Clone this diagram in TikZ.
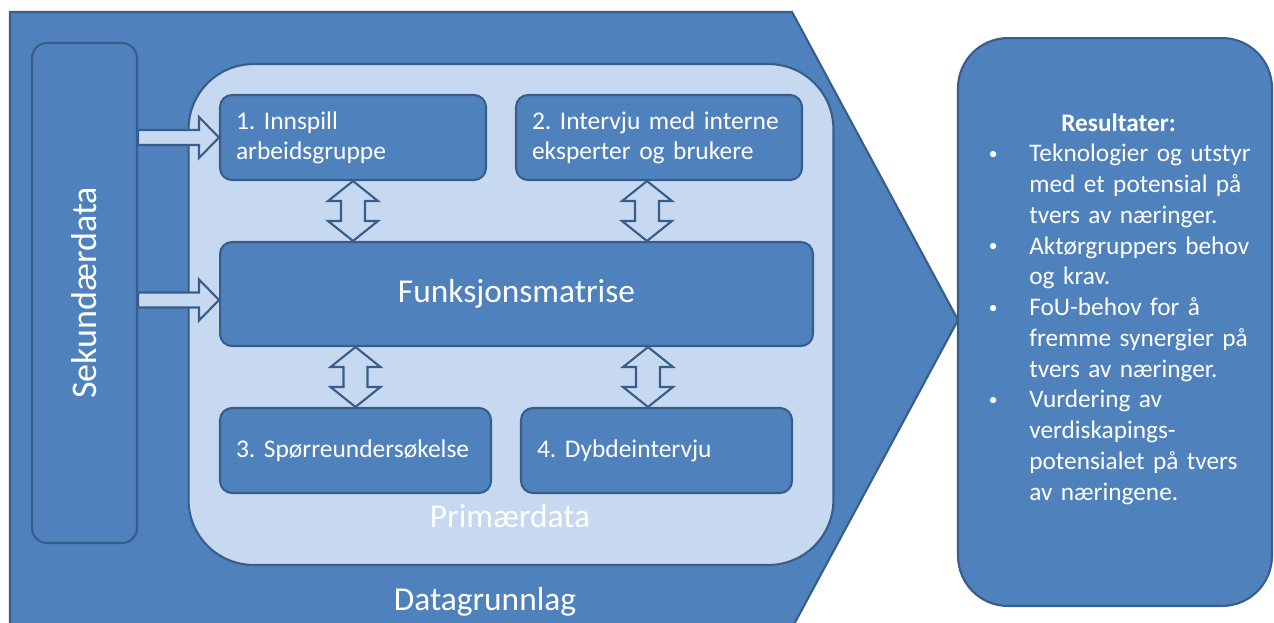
\documentclass[tikz,border=0pt]{standalone}
\usepackage{fontspec}
\setmainfont{Carlito}
\frenchspacing
\definecolor{midblue}{HTML}{4F81BD}
\definecolor{dkblue}{HTML}{385D8A}
\definecolor{ltblue}{HTML}{C6D9F1}
\newcommand{\updown}[2]{%
  \draw[hollow] (#1) -- ++(25,20) -- ++(-13,0) -- ([shift={(12,-20)}]#2) -- ++(13,0) -- (#2)
    -- ++(-25,-20) -- ++(13,0) -- ([shift={(-12,20)}]#1) -- ++(-13,0) -- cycle;}
\newcommand{\rightto}[2]{%
  \draw[hollow] ([shift={(0,-7.5)}]#1) -- ([shift={(-20,-7.5)}]#2) -- ([shift={(-20,-20.5)}]#2) -- (#2)
    -- ([shift={(-20,20.5)}]#2) -- ([shift={(-20,7.5)}]#2) -- ([shift={(0,7.5)}]#1) -- cycle;}
\newcommand{\resbullet}{\makebox[0.84cm][l]{\hspace{0.03cm}\raisebox{0.09em}{\fontsize{10}{10}\selectfont\textbullet}}}
\begin{document}
\begin{tikzpicture}[x=0.02cm, y=-0.02cm,
    frame/.style={draw=dkblue, fill=midblue, line width=1.2pt},
    box/.style={frame, rounded corners=0.24cm, text=white, inner sep=0pt},
    stepbox/.style={box, align=left, inner xsep=0.32cm, minimum height=1.7cm,
      font=\fontsize{14.5}{17}\selectfont},
    hollow/.style={draw=dkblue, fill=ltblue, line width=1.2pt, line join=miter},
    biglabel/.style={text=white, font=\fontsize{19}{22}\selectfont}]
  \useasboundingbox (0,0) rectangle (1274,622);
  \clip (0,0) rectangle (1274,622);
  \draw[frame] (10,12) -- (792,12) -- (958,320) -- (792,628) -- (10,628) -- cycle;
  \node[frame, fill=ltblue, rounded corners=1.3cm, minimum width=12.9cm, minimum height=10.02cm] (prim) at (511,314.5) {};
  \node[box, rounded corners=0.3cm, rotate=90, minimum width=10cm, minimum height=2.1cm,
    font=\fontsize{20.5}{24}\selectfont] (sek) at (84.5,293) {Sekundærdata};
  \node[stepbox, text width=4.68cm] (box1) at (353,137.5) {1. Innspill\\arbeidsgruppe};
  \node[stepbox, text width=5.08cm] (box2) at (659,137.5) {2. Intervju med interne\\eksperter og brukere};
  \node[box, biglabel, minimum width=11.86cm, minimum height=2.08cm] (matrix) at (516.5,294) {Funksjonsmatrise};
  \node[stepbox, text width=4.78cm] (box3) at (355.5,450.5) {3. Spørreundersøkelse};
  \node[stepbox, text width=4.78cm] (box4) at (656.5,450.5) {4. Dybdeintervju};
  \node[biglabel] (primlabel) at (510,516) {Primærdata};
  \node[biglabel] (datalabel) at (485,602) {Datagrunnlag};
  \node[box, rounded corners=1cm, minimum width=6.28cm, minimum height=11.36cm] (res) at (1115,322) {};
  \node[anchor=north west, inner sep=0pt, text=white, text width=5.6cm, align=left,
    font=\fontsize{14.4}{17.5}\selectfont] (restext) at ([shift={(30,76)}]res.north west) {%
    \hspace*{1.48cm}\textbf{Resultater:}
    \begin{list}{\resbullet}{\setlength{\leftmargin}{0.84cm}\setlength{\labelwidth}{0.84cm}%
      \setlength{\labelsep}{0pt}\setlength{\topsep}{0pt}\setlength{\partopsep}{0pt}%
      \setlength{\itemsep}{0pt}\setlength{\parsep}{0pt}}
    \item Teknologier og utstyr\\med et potensial på\\tvers av næringer.
    \item Aktørgruppers behov\\og krav.
    \item FoU-behov for å\\fremme synergier på\\tvers av næringer.
    \item Vurdering av\\verdiskapings-\\potensialet på tvers\\av næringene.
    \end{list}};
  \coordinate (u1) at (box1.south);
  \coordinate (d1) at (u1 |- matrix.north);
  \coordinate (u2) at ([xshift=-0.24cm]box2.south);
  \coordinate (d2) at (u2 |- matrix.north);
  \coordinate (d3) at (box3.north);
  \coordinate (u3) at (d3 |- matrix.south);
  \coordinate (d4) at ([xshift=-0.17cm]box4.north);
  \coordinate (u4) at (d4 |- matrix.south);
  \updown{u1}{d1}
  \updown{u2}{d2}
  \updown{u3}{d3}
  \updown{u4}{d4}
  \coordinate (t1) at (sek.south |- box1.west);
  \coordinate (m1) at ([yshift=-0.12cm]matrix.west);
  \coordinate (t2) at (sek.south |- m1);
  \rightto{t1}{box1.west}
  \rightto{t2}{m1}
\end{tikzpicture}
\end{document}
